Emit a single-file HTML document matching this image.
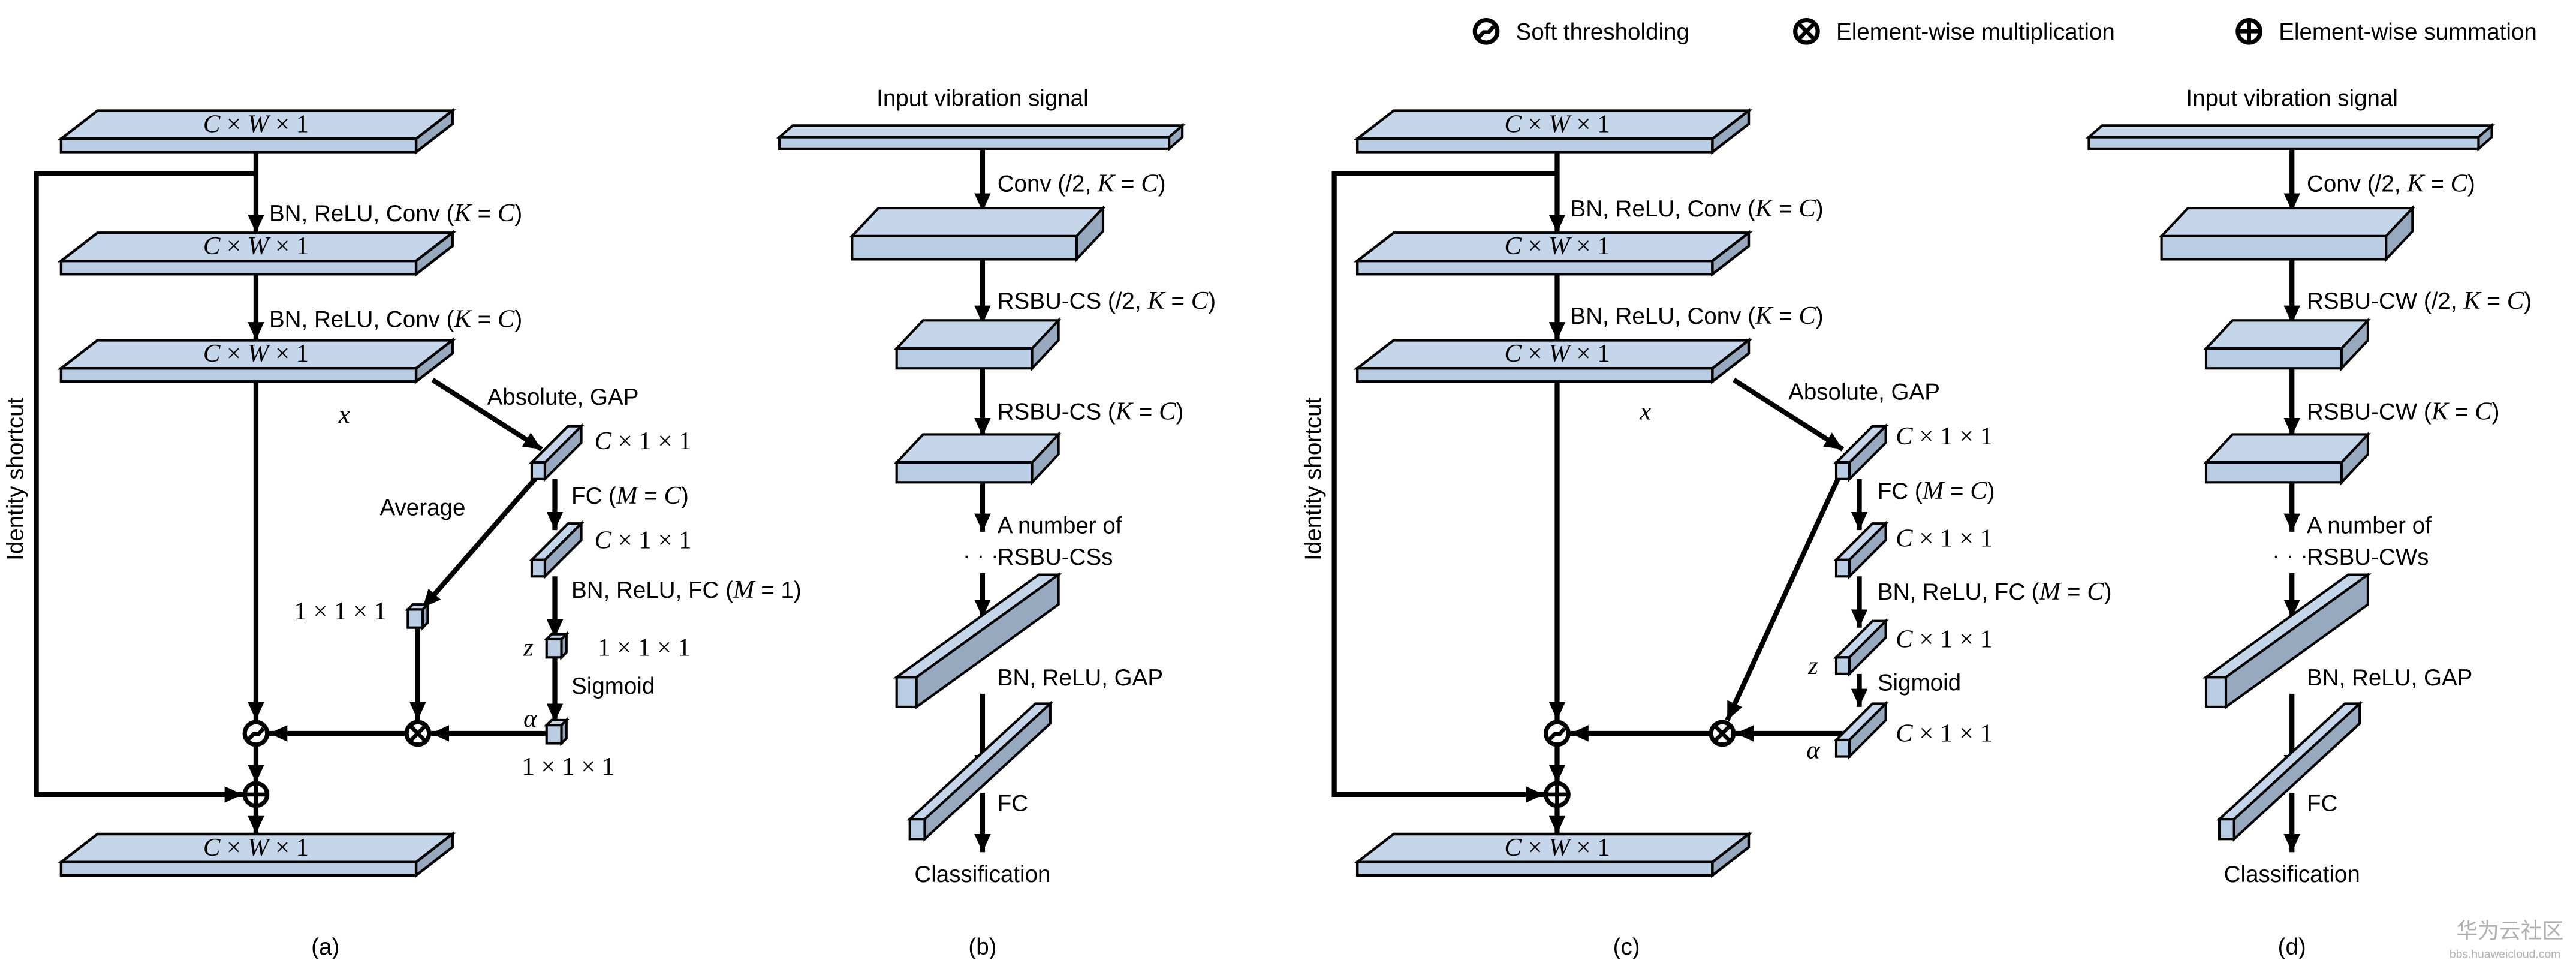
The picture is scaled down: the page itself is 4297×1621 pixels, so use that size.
<!DOCTYPE html>
<html><head><meta charset="utf-8">
<style>html,body{margin:0;padding:0;background:#fff;}svg{display:block}
text{font-family:"Liberation Sans",Arial,sans-serif;font-size:14px;fill:#000}
.m{font-family:"Liberation Serif",serif;font-style:italic;font-size:15.5px}
.r{font-family:"Liberation Serif",serif;font-style:normal;font-size:15.5px}
</style></head><body>
<svg width="4297" height="1621" viewBox="0 0 1560 588.5" preserveAspectRatio="none" xmlns="http://www.w3.org/2000/svg">
<defs>
<marker id="a" markerUnits="userSpaceOnUse" markerWidth="12" markerHeight="12" viewBox="0 0 12 12" refX="11" refY="6" orient="auto"><path d="M0,1 L11,6 L0,11 Z" fill="#000"/></marker>
<g id="slab" stroke="#000" stroke-width="1.6" stroke-linejoin="miter">
<polygon points="0,17 22,0 237,0 215,17" fill="#c5d6ea"/>
<rect x="0" y="17" width="215" height="8" fill="#b9cde5"/>
<polygon points="215,17 237,0 237,8 215,25" fill="#97a9bf"/>
</g>
<g id="bar" stroke="#000" stroke-width="1.5">
<polygon points="0,22 22,0 30,0 8,22" fill="#c5d6ea"/>
<rect x="0" y="22" width="8" height="10" fill="#b9cde5"/>
<polygon points="8,22 30,0 30,10 8,32" fill="#97a9bf"/>
</g>
<g id="cube" stroke="#000" stroke-width="1.5">
<polygon points="0,3 3,0 12,0 9,3" fill="#c5d6ea"/>
<rect x="0" y="3" width="9" height="11" fill="#b9cde5"/>
<polygon points="9,3 12,0 12,11 9,14" fill="#97a9bf"/>
</g>
<g id="soft"><circle r="6.8" fill="#fff" stroke="#000" stroke-width="2.6"/><path d="M-4.5,3.5 L-1.5,0.5 L1.5,0.5 L4.5,-3" fill="none" stroke="#000" stroke-width="2.4"/></g>
<g id="mul"><circle r="6.8" fill="#fff" stroke="#000" stroke-width="2.6"/><path d="M-4.8,-4.8 L4.8,4.8 M4.8,-4.8 L-4.8,4.8" stroke="#000" stroke-width="2.4"/></g>
<g id="add"><circle r="6.8" fill="#fff" stroke="#000" stroke-width="2.6"/><path d="M-6.8,0 L6.8,0 M0,-6.8 L0,6.8" stroke="#000" stroke-width="2.4"/></g>
<g id="inp" stroke="#000" stroke-width="1.5">
<polygon points="0,7 8,0 244,0 236,7" fill="#c5d6ea"/>
<rect x="0" y="7" width="236" height="7" fill="#b9cde5"/>
<polygon points="236,7 244,0 244,7 236,14" fill="#97a9bf"/>
</g>
<g id="b2" stroke="#000" stroke-width="1.5">
<polygon points="0,17 16,0 152,0 136,17" fill="#c5d6ea"/>
<rect x="0" y="17" width="136" height="14" fill="#b9cde5"/>
<polygon points="136,17 152,0 152,14 136,31" fill="#97a9bf"/>
</g>
<g id="b3" stroke="#000" stroke-width="1.5">
<polygon points="0,17 16,0 98,0 82,17" fill="#c5d6ea"/>
<rect x="0" y="17" width="82" height="12" fill="#b9cde5"/>
<polygon points="82,17 98,0 98,12 82,29" fill="#97a9bf"/>
</g>
<g id="gap" stroke="#000" stroke-width="1.5">
<polygon points="0,62 86,0 98,0 12,62" fill="#c5d6ea"/>
<rect x="0" y="62" width="12" height="18" fill="#b9cde5"/>
<polygon points="12,62 98,0 98,18 12,80" fill="#97a9bf"/>
</g>
<g id="fc" stroke="#000" stroke-width="1.5">
<polygon points="0,70 76,0 85,0 9,70" fill="#c5d6ea"/>
<rect x="0" y="70" width="9" height="12" fill="#b9cde5"/>
<polygon points="9,70 85,0 85,12 9,82" fill="#97a9bf"/>
</g>
</defs>

<use href="#soft" x="900" y="19"/><text x="918" y="24">Soft thresholding</text>
<use href="#mul" x="1094" y="19"/><text x="1112" y="24">Element-wise multiplication</text>
<use href="#add" x="1362" y="19"/><text x="1380" y="24">Element-wise summation</text>

<g stroke="#000" stroke-width="3" fill="none">
<line x1="155" y1="92" x2="155" y2="141" marker-end="url(#a)"/>
<line x1="155" y1="166" x2="155" y2="206" marker-end="url(#a)"/>
<line x1="155" y1="231" x2="155" y2="436" marker-end="url(#a)"/>
<line x1="155" y1="451" x2="155" y2="474" marker-end="url(#a)"/>
<line x1="155" y1="488" x2="155" y2="505" marker-end="url(#a)"/>
<polyline points="155,105 22,105 22,481 147,481" marker-end="url(#a)"/>
<line x1="262" y1="230" x2="328" y2="272" marker-end="url(#a)"/>
<line x1="336" y1="290" x2="336" y2="321" marker-end="url(#a)"/>
<line x1="336" y1="349" x2="336" y2="386" marker-end="url(#a)"/>
<line x1="336" y1="398" x2="336" y2="437" marker-end="url(#a)"/>
<line x1="331" y1="444" x2="261" y2="444" marker-end="url(#a)"/>
<line x1="324" y1="290" x2="256" y2="368" marker-end="url(#a)"/>
<line x1="253" y1="380" x2="253" y2="436" marker-end="url(#a)"/>
<line x1="246" y1="444" x2="163" y2="444" marker-end="url(#a)"/>
<line x1="595" y1="90" x2="595" y2="128" marker-end="url(#a)"/>
<line x1="595" y1="157" x2="595" y2="196" marker-end="url(#a)"/>
<line x1="595" y1="223" x2="595" y2="264" marker-end="url(#a)"/>
<line x1="595" y1="292" x2="595" y2="322" marker-end="url(#a)"/>
<line x1="595" y1="347" x2="595" y2="374" marker-end="url(#a)"/>
<line x1="595" y1="420" x2="595" y2="468" marker-end="url(#a)"/>
<line x1="595" y1="480" x2="595" y2="516" marker-end="url(#a)"/>
<line x1="943" y1="92" x2="943" y2="141" marker-end="url(#a)"/>
<line x1="943" y1="166" x2="943" y2="206" marker-end="url(#a)"/>
<line x1="943" y1="231" x2="943" y2="436" marker-end="url(#a)"/>
<line x1="943" y1="451" x2="943" y2="474" marker-end="url(#a)"/>
<line x1="943" y1="488" x2="943" y2="505" marker-end="url(#a)"/>
<polyline points="943,105 808,105 808,481 935,481" marker-end="url(#a)"/>
<line x1="1050" y1="230" x2="1116" y2="272" marker-end="url(#a)"/>
<line x1="1126" y1="290" x2="1126" y2="321" marker-end="url(#a)"/>
<line x1="1126" y1="349" x2="1126" y2="380" marker-end="url(#a)"/>
<line x1="1126" y1="408" x2="1126" y2="428" marker-end="url(#a)"/>
<line x1="1113" y1="290" x2="1046" y2="436" marker-end="url(#a)"/>
<line x1="1116" y1="444" x2="1051" y2="444" marker-end="url(#a)"/>
<line x1="1036" y1="444" x2="951" y2="444" marker-end="url(#a)"/>
<line x1="1388" y1="90" x2="1388" y2="128" marker-end="url(#a)"/>
<line x1="1388" y1="157" x2="1388" y2="196" marker-end="url(#a)"/>
<line x1="1388" y1="223" x2="1388" y2="264" marker-end="url(#a)"/>
<line x1="1388" y1="292" x2="1388" y2="322" marker-end="url(#a)"/>
<line x1="1388" y1="347" x2="1388" y2="374" marker-end="url(#a)"/>
<line x1="1388" y1="420" x2="1388" y2="468" marker-end="url(#a)"/>
<line x1="1388" y1="480" x2="1388" y2="516" marker-end="url(#a)"/>
</g>

<use href="#slab" x="37" y="67"/><use href="#slab" x="37" y="141"/><use href="#slab" x="37" y="206"/><use href="#slab" x="37" y="505"/>
<use href="#bar" x="322" y="258"/><use href="#bar" x="322" y="317"/>
<use href="#cube" x="331" y="384"/><use href="#cube" x="331" y="436"/><use href="#cube" x="247" y="366"/>
<use href="#soft" x="155" y="444"/><use href="#add" x="155" y="481"/><use href="#mul" x="253" y="444"/>
<use href="#inp" x="472" y="76"/><use href="#b2" x="516" y="126"/><use href="#b3" x="543" y="194"/><use href="#b3" x="543" y="263"/>
<use href="#gap" x="543" y="348"/><use href="#fc" x="551" y="426"/>
<use href="#slab" x="822" y="67"/><use href="#slab" x="822" y="141"/><use href="#slab" x="822" y="206"/><use href="#slab" x="822" y="505"/>
<use href="#bar" x="1112" y="258"/><use href="#bar" x="1112" y="317"/><use href="#bar" x="1112" y="376"/><use href="#bar" x="1112" y="426"/>
<use href="#soft" x="943" y="444"/><use href="#add" x="943" y="481"/><use href="#mul" x="1043" y="444"/>
<use href="#inp" x="1265" y="76"/><use href="#b2" x="1309" y="126"/><use href="#b3" x="1336" y="194"/><use href="#b3" x="1336" y="263"/>
<use href="#gap" x="1336" y="348"/><use href="#fc" x="1344" y="426"/>

<text x="155" y="80" text-anchor="middle"><tspan class="m">C</tspan><tspan class="r"> × </tspan><tspan class="m">W</tspan><tspan class="r"> × 1</tspan></text>
<text x="155" y="154" text-anchor="middle"><tspan class="m">C</tspan><tspan class="r"> × </tspan><tspan class="m">W</tspan><tspan class="r"> × 1</tspan></text>
<text x="155" y="219" text-anchor="middle"><tspan class="m">C</tspan><tspan class="r"> × </tspan><tspan class="m">W</tspan><tspan class="r"> × 1</tspan></text>
<text x="155" y="518" text-anchor="middle"><tspan class="m">C</tspan><tspan class="r"> × </tspan><tspan class="m">W</tspan><tspan class="r"> × 1</tspan></text>
<text x="163" y="134">BN, ReLU, Conv (<tspan class="m">K</tspan> = <tspan class="m">C</tspan>)</text>
<text x="163" y="198">BN, ReLU, Conv (<tspan class="m">K</tspan> = <tspan class="m">C</tspan>)</text>
<text x="205" y="256" class="m">x</text>
<text x="295" y="245">Absolute, GAP</text>
<text x="360" y="272"><tspan class="m">C</tspan><tspan class="r"> × 1 × 1</tspan></text>
<text x="346" y="305">FC (<tspan class="m">M</tspan> = <tspan class="m">C</tspan>)</text>
<text x="360" y="332"><tspan class="m">C</tspan><tspan class="r"> × 1 × 1</tspan></text>
<text x="230" y="312">Average</text>
<text x="346" y="362">BN, ReLU, FC (<tspan class="m">M</tspan> = 1)</text>
<text x="178" y="375" class="r">1 × 1 × 1</text>
<text x="317" y="397" class="m">z</text>
<text x="362" y="397" class="r">1 × 1 × 1</text>
<text x="346" y="420">Sigmoid</text>
<text x="317" y="440" class="m">α</text>
<text x="316" y="469" class="r">1 × 1 × 1</text>
<text transform="translate(14,290) rotate(-90)" text-anchor="middle">Identity shortcut</text>
<text x="197" y="578" text-anchor="middle" font-size="15">(a)</text>
<text x="595" y="64" text-anchor="middle">Input vibration signal</text>
<text x="604" y="116">Conv (/2, <tspan class="m">K</tspan> = <tspan class="m">C</tspan>)</text>
<text x="604" y="187">RSBU-CS (/2, <tspan class="m">K</tspan> = <tspan class="m">C</tspan>)</text>
<text x="604" y="254">RSBU-CS (<tspan class="m">K</tspan> = <tspan class="m">C</tspan>)</text>
<text x="604" y="323">A number of</text>
<text x="583" y="341">· · ·</text>
<text x="604" y="342">RSBU-CSs</text>
<text x="604" y="415">BN, ReLU, GAP</text>
<text x="604" y="491">FC</text>
<text x="595" y="534" text-anchor="middle">Classification</text>
<text x="595" y="578" text-anchor="middle" font-size="15">(b)</text>
<text x="943" y="80" text-anchor="middle"><tspan class="m">C</tspan><tspan class="r"> × </tspan><tspan class="m">W</tspan><tspan class="r"> × 1</tspan></text>
<text x="943" y="154" text-anchor="middle"><tspan class="m">C</tspan><tspan class="r"> × </tspan><tspan class="m">W</tspan><tspan class="r"> × 1</tspan></text>
<text x="943" y="219" text-anchor="middle"><tspan class="m">C</tspan><tspan class="r"> × </tspan><tspan class="m">W</tspan><tspan class="r"> × 1</tspan></text>
<text x="943" y="518" text-anchor="middle"><tspan class="m">C</tspan><tspan class="r"> × </tspan><tspan class="m">W</tspan><tspan class="r"> × 1</tspan></text>
<text x="951" y="131">BN, ReLU, Conv (<tspan class="m">K</tspan> = <tspan class="m">C</tspan>)</text>
<text x="951" y="196">BN, ReLU, Conv (<tspan class="m">K</tspan> = <tspan class="m">C</tspan>)</text>
<text x="993" y="254" class="m">x</text>
<text x="1083" y="242">Absolute, GAP</text>
<text x="1148" y="269"><tspan class="m">C</tspan><tspan class="r"> × 1 × 1</tspan></text>
<text x="1137" y="302">FC (<tspan class="m">M</tspan> = <tspan class="m">C</tspan>)</text>
<text x="1148" y="331"><tspan class="m">C</tspan><tspan class="r"> × 1 × 1</tspan></text>
<text x="1137" y="363">BN, ReLU, FC (<tspan class="m">M</tspan> = <tspan class="m">C</tspan>)</text>
<text x="1095" y="408" class="m">z</text>
<text x="1148" y="392"><tspan class="m">C</tspan><tspan class="r"> × 1 × 1</tspan></text>
<text x="1137" y="418">Sigmoid</text>
<text x="1094" y="459" class="m">α</text>
<text x="1148" y="449"><tspan class="m">C</tspan><tspan class="r"> × 1 × 1</tspan></text>
<text transform="translate(800,290) rotate(-90)" text-anchor="middle">Identity shortcut</text>
<text x="985" y="578" text-anchor="middle" font-size="15">(c)</text>
<text x="1388" y="64" text-anchor="middle">Input vibration signal</text>
<text x="1397" y="116">Conv (/2, <tspan class="m">K</tspan> = <tspan class="m">C</tspan>)</text>
<text x="1397" y="187">RSBU-CW (/2, <tspan class="m">K</tspan> = <tspan class="m">C</tspan>)</text>
<text x="1397" y="254">RSBU-CW (<tspan class="m">K</tspan> = <tspan class="m">C</tspan>)</text>
<text x="1397" y="323">A number of</text>
<text x="1376" y="341">· · ·</text>
<text x="1397" y="342">RSBU-CWs</text>
<text x="1397" y="415">BN, ReLU, GAP</text>
<text x="1397" y="491">FC</text>
<text x="1388" y="534" text-anchor="middle">Classification</text>
<text x="1388" y="578" text-anchor="middle" font-size="15">(d)</text>
<text x="1520" y="568" text-anchor="middle" style="font-family:'Liberation Sans','Noto Sans CJK SC',sans-serif;font-size:13px;fill:#b0b0b0">华为云社区</text>
<text x="1517" y="580" text-anchor="middle" style="font-size:7px;fill:#b0b0b0">bbs.huaweicloud.com</text>
</svg>
</body></html>
